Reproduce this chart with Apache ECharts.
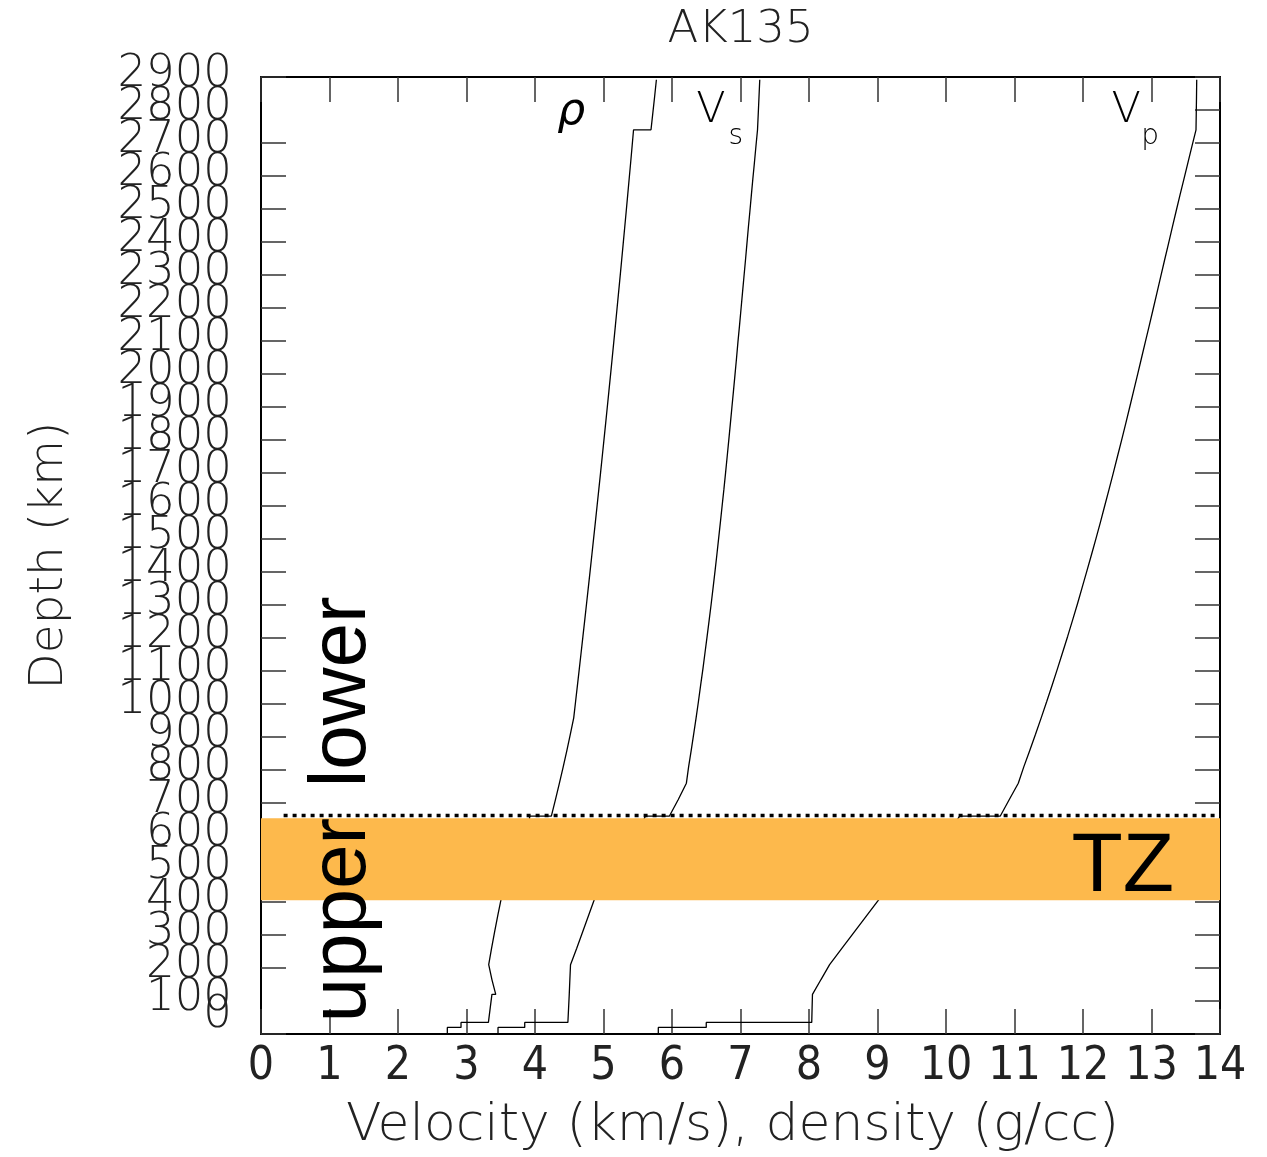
<!DOCTYPE html>
<html><head><meta charset="utf-8">
<script src="https://cdn.jsdelivr.net/npm/echarts@6/dist/echarts.min.js"></script>
<style>html,body{margin:0;padding:0;background:#fff}#c{width:1267px;height:1157px}</style>
</head><body><div id="c"></div>
<script>
// ---- data (AK135, depth in km) ----
const depth = [0,20,20,35,35,77.5,120,120,165,210,260,310,360,410,410,460,510,560,610,660,660,710,760,809.5,859,908.5,958,1007.5,
  1057,1106.5,1156,1205.5,1255,1304.5,1354,1403.5,1453,1502.5,1552,1601.5,1651,1700.5,1750,1799.5,1849,1898.5,1948,1997.5,
  2047,2096.5,2146,2195.5,2245,2294.5,2344,2393.5,2443,2492.5,2542,2591.5,2640,2690,2740,2740,2789.67,2839.33,2891.5];
const vp = [5.8,5.8,6.5,6.5,8.04,8.045,8.0505,8.0505,8.175,8.3007,8.4822,8.665,8.8476,9.0302,9.36,9.528,9.6962,9.864,10.032,10.2,
  10.7909,10.9222,11.0553,11.1355,11.2228,11.3068,11.3897,11.4704,11.5493,11.6265,11.702,11.7768,11.8491,11.9208,11.9891,12.0571,
  12.1247,12.1912,12.2558,12.3181,12.3813,12.4427,12.503,12.5638,12.6226,12.6807,12.7384,12.7956,12.8524,12.9093,12.9663,13.0226,
  13.0786,13.1337,13.1895,13.2465,13.3017,13.3584,13.4156,13.4741,13.5311,13.5899,13.6498,13.6498,13.6533,13.657,13.6601];
const vs = [3.46,3.46,3.85,3.85,4.48,4.49,4.5,4.5,4.509,4.5184,4.6094,4.6964,4.7832,4.8702,5.0806,5.1864,5.2922,5.3989,5.5047,5.6104,
  5.9607,6.0898,6.21,6.2424,6.2799,6.3164,6.3519,6.386,6.4182,6.4514,6.4822,6.5131,6.5431,6.5728,6.6009,6.6285,6.6554,6.6813,6.707,
  6.7323,6.7579,6.782,6.8056,6.8289,6.8517,6.8743,6.8972,6.9194,6.9416,6.9625,6.9852,7.0069,7.0286,7.0504,7.0722,7.0932,7.1144,
  7.1368,7.1584,7.1804,7.2031,7.2253,7.2485,7.2485,7.2593,7.27,7.2811];
const rho = [2.72,2.72,2.92,2.92,3.3198,3.3455,3.3713,3.4268,3.3711,3.3243,3.3663,3.411,3.4577,3.5068,3.9317,3.9273,3.9233,3.9218,
  3.9206,3.9201,4.2387,4.2986,4.3565,4.4118,4.465,4.5162,4.5654,4.5926,4.6198,4.6467,4.6735,4.7001,4.7266,4.7528,4.779,4.805,4.8307,
  4.8562,4.8817,4.9069,4.9321,4.957,4.9817,5.0062,5.0306,5.0548,5.0789,5.1027,5.1264,5.1499,5.1732,5.1963,5.2192,5.242,5.2646,
  5.287,5.3092,5.3313,5.3531,5.3748,5.3962,5.4176,5.4387,5.6934,5.7196,5.7458,5.7721];
const tzBand = [[0, 14, 405, 654]];          // [xFrom, xTo, depthFrom, depthTo]
const disc660 = [[0.33, 662], [14, 662]];    // 660 km discontinuity marker
const titleText = 'AK135';
const xName = 'Velocity (km/s), density (g/cc)';
const yName = 'Depth (km)';

// ---- chart ----
const chart = echarts.init(document.getElementById('c'), null, {renderer: 'canvas'});
const THIN = "'DejaVu Sans'";
const COND = "'DejaVu Sans Condensed'";
const pairs = xs => depth.map((d, i) => [xs[i], d]);
const lineSeries = (name, xs) => ({
  name, type: 'line', data: pairs(xs), showSymbol: false, symbol: 'none', z: 2,
  lineStyle: {color: '#000', width: 1.3}, silent: true
});
const axisLineStyle = {onZero: false, lineStyle: {color: '#000', width: 2}};
const tickStyle = {inside: true, length: 25, lineStyle: {color: '#333', width: 1.5}};
const yRich = {
  n: {fontFamily: THIN, fontWeight: 200, fontSize: 45, lineHeight: 10, color: '#222', padding: [0, 0, 6, 0]},
  z: {fontFamily: THIN, fontWeight: 200, fontSize: 45, lineHeight: 10, color: '#222', padding: [0, 0, 38, 0]}
};
const fmtY = v => v === 0 ? '{z|0}' : '{n|' + v + '}';
// ECharts drops the labels next to min/max when they overlap, so those two are drawn by a helper axis
const isNeighbour = v => v === 100 || v === 2800;

const option = {
  animation: false,
  backgroundColor: '#fff',
  grid: {left: 261, right: 47, top: 77, bottom: 120},
  xAxis: [
    {type: 'value', min: 0, max: 14, interval: 1, position: 'bottom',
     axisLine: axisLineStyle, axisTick: tickStyle, splitLine: {show: false},
     axisLabel: {fontFamily: COND, fontWeight: 200, fontSize: 46, color: '#222', margin: 10, showMinLabel: true, showMaxLabel: true},
     name: xName, nameLocation: 'middle', nameGap: 66,
     nameTextStyle: {fontFamily: THIN, fontWeight: 200, fontSize: 52, color: '#222', padding: [0, 16, 0, 0]}},
    {type: 'value', min: 0, max: 14, interval: 1, position: 'top',
     axisLine: axisLineStyle, axisTick: tickStyle, splitLine: {show: false}, axisLabel: {show: false}}
  ],
  yAxis: [
    {type: 'value', min: 0, max: 2900, interval: 100, position: 'left',
     axisLine: axisLineStyle, axisTick: tickStyle, splitLine: {show: false},
     axisLabel: {margin: 29, showMinLabel: true, showMaxLabel: true, formatter: fmtY, rich: yRich},
     name: yName, nameLocation: 'middle', nameRotate: 90, nameGap: 188,
     nameTextStyle: {fontFamily: THIN, fontWeight: 200, fontSize: 47, color: '#222'}},
    {type: 'value', min: 0, max: 2900, interval: 100, position: 'right',
     axisLine: axisLineStyle, axisTick: tickStyle, splitLine: {show: false}, axisLabel: {show: false}},
    {type: 'value', min: 0, max: 2900, interval: 100, position: 'left',
     axisLine: {show: false, onZero: false}, axisTick: {show: false}, splitLine: {show: false},
     axisLabel: {margin: 29, showMinLabel: true, showMaxLabel: true,
       formatter: v => isNeighbour(v) ? fmtY(v) : '', rich: yRich}}
  ],
  series: [
    lineSeries('rho', rho),
    lineSeries('Vs', vs),
    lineSeries('Vp', vp),
    {type: 'custom', name: 'TZ band', z: 3, silent: true, data: tzBand,
     encode: {x: [0, 1], y: [2, 3]},
     renderItem: (params, api) => {
       const a = api.coord([api.value(0), api.value(3)]);
       const b = api.coord([api.value(1), api.value(2)]);
       return {type: 'rect', shape: {x: a[0], y: a[1], width: b[0] - a[0], height: b[1] - a[1]},
               style: {fill: '#FDB94C'}};
     }},
    {type: 'line', name: '660', data: disc660, z: 4, showSymbol: false, symbol: 'none', silent: true,
     lineStyle: {color: '#000', width: 3.5, type: [4, 5]}}
  ]
};
chart.setOption(option);

// ---- annotations placed in data coordinates ----
const px = (x, d) => chart.convertToPixel({xAxisIndex: 0, yAxisIndex: 0}, [x, d]);
const notes = [
  {t: '\u03c1', x: 4.53, d: 2791, f: THIN, s: 44, w: 200, st: 'italic', al: 'center'},
  {t: 'V', x: 6.57, d: 2798, f: THIN, s: 43, w: 200, al: 'center'},
  {t: 's', x: 6.93, d: 2720, f: THIN, s: 28, w: 200, al: 'center'},
  {t: 'V', x: 12.63, d: 2798, f: THIN, s: 43, w: 200, al: 'center'},
  {t: 'p', x: 12.98, d: 2720, f: THIN, s: 28, w: 200, al: 'center'},
  {t: 'lower', x: 1.20, d: 747, f: "'Liberation Sans'", s: 80, w: 'normal', al: 'left', rot: Math.PI / 2},
  {t: 'upper', x: 1.20, d: 35, f: "'Liberation Sans'", s: 80, w: 'normal', al: 'left', rot: Math.PI / 2},
  {t: 'TZ', x: 13.33, d: 503, f: "'Liberation Sans'", s: 84, w: 'normal', al: 'right'}
];
const graphics = notes.map(n => {
  const p = px(n.x, n.d);
  return {type: 'text', x: p[0], y: p[1], rotation: n.rot || 0, z: 100, silent: true,
    style: {text: n.t, fontFamily: n.f, fontSize: n.s, fontWeight: n.w, fontStyle: n.st || 'normal',
            fill: '#000', align: n.al, verticalAlign: 'middle'}};
});
const mid = px(7, 0)[0];
graphics.push({type: 'text', x: mid, y: 30, z: 100, silent: true,
  style: {text: titleText, fontFamily: THIN, fontWeight: 200, fontSize: 45, fill: '#222', align: 'center', verticalAlign: 'middle'}});
chart.setOption({graphic: graphics});
</script>
</body></html>
